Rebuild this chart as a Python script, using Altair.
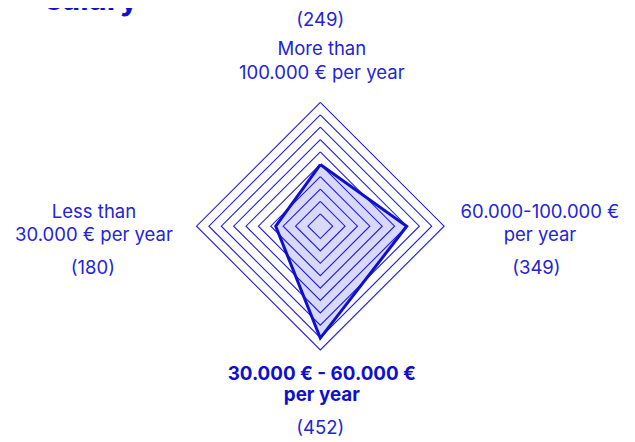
import altair as alt
import pandas as pd

# ---- data -------------------------------------------------------------
CATEGORY_LINES = [
    "More than\n100.000 € per year",
    "60.000-100.000 €\nper year",
    "30.000 € - 60.000 €\nper year",
    "Less than\n30.000 € per year",
]
VALUES = [249, 349, 452, 180]
HIGHLIGHT = [False, False, True, False]
RING_LEVELS = [50, 100, 150, 200, 250, 300, 350, 400, 450, 500]
MAX_VALUE = 500
TITLE = "salary"

# ---- style ------------------------------------------------------------
BLUE = "#1c1ce6"
TEXT_BLUE = "#2323d8"
DARK_BLUE = "#1010cc"
FONT = "Inter"
W, H = 619, 434
CX, CY = 312.3, 218.2          # centre of the radar inside the view (px)
R_PX = 123.8                   # radius of the outer ring (px)
K = R_PX / MAX_VALUE

n = len(VALUES)
ANG = f"datum.idx * 2 * PI / {n}"

xscale = alt.Scale(domain=[-CX, W - CX], nice=False, zero=False)
yscale = alt.Scale(domain=[-(H - CY), CY], nice=False, zero=False)
X = lambda f: alt.X(f, type="quantitative", scale=xscale, axis=None)
Y = lambda f: alt.Y(f, type="quantitative", scale=yscale, axis=None)

# rings
ring_rows = [{"level": lv, "idx": i} for lv in RING_LEVELS for i in range(n + 1)]
rings = (
    alt.Chart(pd.DataFrame(ring_rows))
    .transform_calculate(
        x=f"sin({ANG}) * datum.level * {K}",
        y=f"cos({ANG}) * datum.level * {K}",
    )
    .mark_line(color=BLUE, strokeWidth=1.1, interpolate="linear")
    .encode(x=X("x:Q"), y=Y("y:Q"), detail="level:N", order="idx:Q")
)

# data polygon
poly_rows = [{"idx": i, "value": VALUES[i % n]} for i in range(n + 1)]
poly_base = alt.Chart(pd.DataFrame(poly_rows)).transform_calculate(
    x=f"sin({ANG}) * datum.value * {K}",
    y=f"cos({ANG}) * datum.value * {K}",
)
poly_fill = poly_base.mark_line(
    fill=BLUE, fillOpacity=0.17, strokeWidth=0
).encode(x=X("x:Q"), y=Y("y:Q"), order="idx:Q")
poly_line = poly_base.mark_line(
    color=DARK_BLUE, strokeWidth=3, strokeJoin="miter"
).encode(x=X("x:Q"), y=Y("y:Q"), order="idx:Q")

# labels
lab_df = pd.DataFrame(
    {
        "idx": list(range(n)),
        "label": CATEGORY_LINES,
        "value": VALUES,
        "bold": HIGHLIGHT,
    }
)
lab_base = alt.Chart(lab_df).transform_calculate(
    s=f"sin({ANG})",
    c=f"cos({ANG})",
)
cat_pos = dict(
    lx="datum.s * 223 - 3.3 * datum.s * datum.s + 1.5 * datum.c * datum.c",
    ly="datum.c * 162.5 + 8.6",
)
labels_normal = (
    lab_base.transform_filter("!datum.bold")
    .transform_calculate(**cat_pos)
    .mark_text(
        font=FONT, fontSize=18.5, color=TEXT_BLUE, lineBreak="\n",
        lineHeight=23.5, align="center", baseline="alphabetic",
    )
    .encode(x=X("lx:Q"), y=Y("ly:Q"), text="label:N")
)
labels_bold = (
    lab_base.transform_filter("datum.bold")
    .transform_calculate(**cat_pos)
    .mark_text(
        font=FONT, fontSize=18.8, fontWeight="bold", color=DARK_BLUE,
        lineBreak="\n", lineHeight=20.7, align="center", baseline="alphabetic",
    )
    .encode(x=X("lx:Q"), y=Y("ly:Q"), text="label:N")
)
counts = (
    lab_base.transform_calculate(
        lx="datum.s * 221.8 - 5.7 * datum.s * datum.s",
        ly="datum.c * 204 - 3.3 - 44 * datum.s * datum.s",
        t="'(' + datum.value + ')'",
    )
    .mark_text(font=FONT, fontSize=18.5, color=TEXT_BLUE, align="center",
               baseline="alphabetic")
    .encode(x=X("lx:Q"), y=Y("ly:Q"), text="t:N")
)

title = (
    alt.Chart(pd.DataFrame({"t": [TITLE]}))
    .mark_text(font=FONT, fontSize=31, fontWeight="bold", color=DARK_BLUE,
               align="left", baseline="alphabetic")
    .encode(x=alt.value(37), y=alt.value(2), text="t:N")
)

chart = (
    alt.layer(poly_fill, rings, poly_line, labels_normal, labels_bold, counts, title)
    .properties(width=W, height=H, autosize=alt.AutoSizeParams(type="none"), padding=0)
    .configure_view(stroke=None)
)

chart.save("out.html", embed_options={"renderer": "svg", "actions": False})
